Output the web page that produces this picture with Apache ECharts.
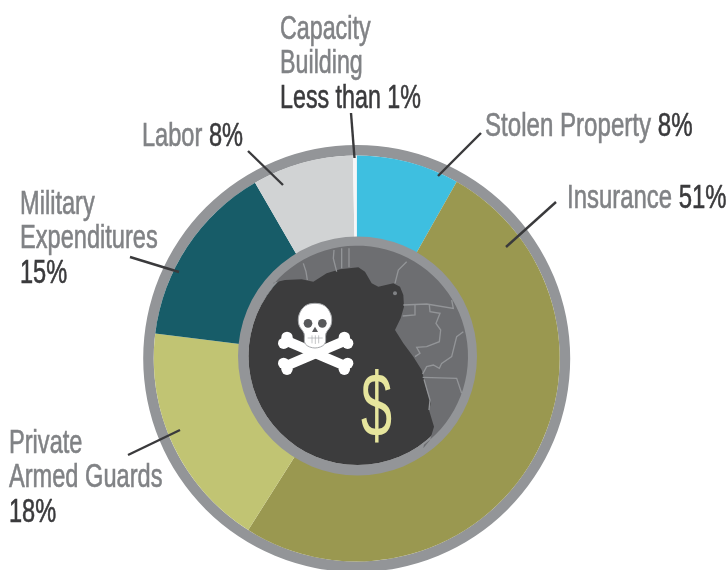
<!DOCTYPE html>
<html>
<head>
<meta charset="utf-8">
<style>
  html, body { margin: 0; padding: 0; background: #fff; overflow: hidden; }
  #chart { width: 726px; height: 570px; }
</style>
<script src="https://cdn.jsdelivr.net/npm/echarts@6/dist/echarts.min.js"></script>
</head>
<body>
<div id="chart"></div>
<script>
// slices clockwise from 12 o'clock
var categories = ["Stolen Property", "Insurance", "Private Armed Guards", "Military Expenditures", "Labor", "Capacity Building"];
// arc sizes
var sliceValues = [8.2, 50.8, 18, 14.7, 8.05, 0.3];
var printedNames = ["Stolen Property", "Insurance", "Private\nArmed Guards", "Military\nExpenditures", "Labor", "Capacity\nBuilding"];
var printedShares = ["8%", "51%", "18%", "15%", "8%", "Less than 1%"];
var sliceColors = ["#3ebfe0", "#9a9850", "#c1c473", "#175c68", "#d1d3d4", "#f6f6f7"];

var cx = 356.7, cy = 358.5;
var innerCx = 357.5, innerCy = 356;
var labelFont = '"Liberation Sans", sans-serif';

// label anchor: x, y of last baseline, separator between name and share, leader line
var labelLayout = [
  { x: 485, y: 136, sep: " ", sx: 0.73, line: [481, 133, 438, 176] },
  { x: 567, y: 208, sep: " ", sx: 0.725, line: [556, 202, 506, 247] },
  { x: 9, y: 522, sep: "\n", sx: 0.715, line: [128, 455, 180, 430] },
  { x: 20, y: 283, sep: "\n", sx: 0.715, line: [130, 257, 179, 272] },
  { x: 142, y: 146, sep: " ", sx: 0.715, line: [248, 151, 283, 185] },
  { x: 280, y: 108, sep: "\n", sx: 0.705, line: [351, 113, 354.5, 158] }
];

// map outline, in 3x crop coordinates
var coast = [[580, 655], [600, 630], [612, 590], [597, 540], [603, 520], [590, 480], [575, 420], [550, 380], [520, 340], [495, 300], [512, 265], [522, 230], [520, 195], [510, 170], [490, 160], [445, 170], [425, 160], [405, 125], [385, 112], [330, 118], [290, 130], [250, 155], [215, 148], [165, 150], [130, 158]];
var borders = [
  [[220, 100], [228, 125], [232, 150]],
  [[312, 60], [310, 85], [320, 125]],
  [[335, 55], [335, 115]],
  [[357, 55], [357, 112]],
  [[530, 95], [505, 120], [495, 160]],
  [[520, 225], [590, 222], [670, 235], [665, 210]],
  [[555, 225], [555, 255], [518, 258]],
  [[598, 225], [600, 245], [630, 250], [618, 280], [632, 300], [628, 335], [590, 350], [560, 352], [570, 370], [555, 380]],
  [[700, 305], [680, 320], [665, 380], [635, 400], [628, 415], [610, 405], [590, 410], [578, 432]],
  [[578, 442], [680, 445], [695, 490]],
  [[582, 448], [600, 510], [597, 540]]
];
var skullOutline = [[255, 220], [285, 228], [303, 255], [303, 285], [288, 310], [284, 342], [255, 354], [226, 342], [222, 310], [207, 285], [207, 255], [225, 228]];
var bones = [[168, 332, 346, 408], [346, 332, 168, 408]];

// land = coast + the circle's edge back to where the coast starts
var landPoints = coast.slice();
var mapCx = 382, mapCy = 379, mapR = 332;
for (var a = 221; a <= 414; a += 4) {
  landPoints.push([mapCx + mapR * Math.cos(a * Math.PI / 180), mapCy + mapR * Math.sin(a * Math.PI / 180)]);
}

var mapChildren = [
  { type: "polygon", z: 10, shape: { points: landPoints }, style: { fill: "#6d6e71" } },
  { type: "circle", z: 11, shape: { cx: 495, cy: 190, r: 6 }, style: { fill: "#808285" } }
];
borders.forEach(function (b) {
  mapChildren.push({ type: "polyline", z: 11, shape: { points: b }, style: { stroke: "#939598", lineWidth: 4, fill: null } });
});
bones.forEach(function (b) {
  var dx = b[2] > b[0] ? 1 : -1;
  mapChildren.push(
    { type: "line", z: 12, shape: { x1: b[0], y1: b[1], x2: b[2], y2: b[3] }, style: { stroke: "#fff", lineWidth: 30, lineCap: "round" } },
    { type: "circle", z: 12, shape: { cx: b[0] - 7 * dx, cy: b[1] + 8, r: 17 }, style: { fill: "#fff" } },
    { type: "circle", z: 12, shape: { cx: b[0] + 3 * dx, cy: b[1] - 10, r: 17 }, style: { fill: "#fff" } },
    { type: "circle", z: 12, shape: { cx: b[2] + 7 * dx, cy: b[3] - 8, r: 17 }, style: { fill: "#fff" } },
    { type: "circle", z: 12, shape: { cx: b[2] - 3 * dx, cy: b[3] + 10, r: 17 }, style: { fill: "#fff" } }
  );
});
mapChildren.push(
  { type: "polygon", z: 13, shape: { points: skullOutline, smooth: 0.35 }, style: { fill: "#fff", stroke: "#a7a9ac", lineWidth: 3 } },
  { type: "circle", z: 14, shape: { cx: 234, cy: 280, r: 13 }, style: { fill: "#58595b" } },
  { type: "circle", z: 14, shape: { cx: 277, cy: 280, r: 13 }, style: { fill: "#58595b" } },
  { type: "polygon", z: 14, shape: { points: [[255, 290], [264, 306], [246, 306]] }, style: { fill: "#58595b" } },
  { type: "line", z: 14, shape: { x1: 233, y1: 324, x2: 278, y2: 324 }, style: { stroke: "#a7a9ac", lineWidth: 2 } },
  { type: "line", z: 14, shape: { x1: 246, y1: 316, x2: 246, y2: 340 }, style: { stroke: "#a7a9ac", lineWidth: 2 } },
  { type: "line", z: 14, shape: { x1: 256, y1: 316, x2: 256, y2: 342 }, style: { stroke: "#a7a9ac", lineWidth: 2 } },
  { type: "line", z: 14, shape: { x1: 266, y1: 316, x2: 266, y2: 340 }, style: { stroke: "#a7a9ac", lineWidth: 2 } }
);

var elements = [
  { type: "group", x: 230, y: 230, scaleX: 1 / 3, scaleY: 1 / 3, children: mapChildren },
  {
    type: "text", z: 15, x: 376.5, y: 411, scaleX: 0.62,
    style: { text: "$", fill: "#e6e59d", font: "90px " + labelFont, align: "center", verticalAlign: "middle" }
  }
];

labelLayout.forEach(function (l, i) {
  var nameLines = printedNames[i].split("\n").map(function (s) { return "{n|" + s + "}"; }).join("\n");
  elements.push({
    type: "text", z: 20, x: l.x, y: l.y + 8, scaleX: l.sx,
    style: {
      text: nameLines + (l.sep === " " ? "{n| }" : "\n") + "{p|" + printedShares[i] + "}",
      align: "left", verticalAlign: "bottom",
      rich: {
        n: { fontFamily: labelFont, fontSize: 33, lineHeight: 34.5, fill: "#808285", stroke: "#808285", lineWidth: 0.6 },
        p: { fontFamily: labelFont, fontSize: 33, lineHeight: 34.5, fill: "#3a3a3c", stroke: "#3a3a3c", lineWidth: 0.6 }
      }
    }
  });
  elements.push({
    type: "line", z: 21,
    shape: { x1: l.line[0], y1: l.line[1], x2: l.line[2], y2: l.line[3] },
    style: { stroke: "#3a3a3c", lineWidth: 2.4 }
  });
});

var chart = echarts.init(document.getElementById("chart"), null, { renderer: "canvas" });
chart.setOption({
  animation: false,
  backgroundColor: "#fff",
  series: [
    // outer band
    {
      type: "pie", silent: true, center: [cx, cy], radius: [203, 213.5],
      label: { show: false }, itemStyle: { color: "#939598" },
      data: [{ value: 1, name: "outer ring" }]
    },
    {
      type: "pie", silent: true, center: [cx, cy], radius: [110, 203], startAngle: 90, clockwise: true,
      label: { show: false }, labelLine: { show: false },
      data: categories.map(function (c, i) {
        return { name: c, value: sliceValues[i], itemStyle: { color: sliceColors[i] } };
      })
    },
    // inner band and sea
    {
      type: "pie", silent: true, center: [innerCx, innerCy], radius: [109, 119.5], z: 3,
      label: { show: false }, itemStyle: { color: "#939598" },
      data: [{ value: 1, name: "inner ring" }]
    },
    {
      type: "pie", silent: true, center: [innerCx, innerCy], radius: [0, 109], z: 3,
      label: { show: false }, itemStyle: { color: "#3c3c3d" },
      data: [{ value: 1, name: "sea" }]
    }
  ],
  graphic: { elements: elements }
});
</script>
</body>
</html>
